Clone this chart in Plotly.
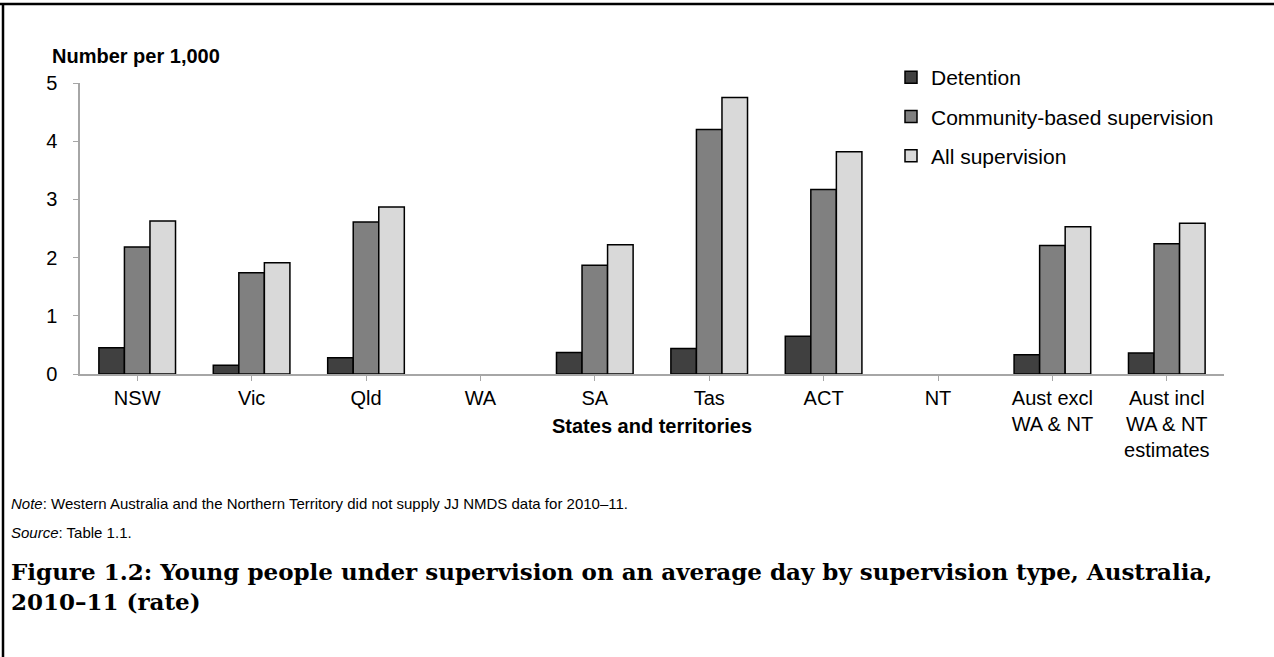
import plotly.graph_objects as go

# categories and rates (number per 1,000)
states = ["NSW", "Vic", "Qld", "WA", "SA", "Tas", "ACT", "NT",
          "Aust excl<br>WA & NT", "Aust incl<br>WA & NT<br>estimates"]
detention = [0.45, 0.15, 0.28, None, 0.37, 0.44, 0.65, None, 0.33, 0.36]
community = [2.18, 1.74, 2.61, None, 1.87, 4.20, 3.17, None, 2.21, 2.24]
all_supervision = [2.63, 1.91, 2.87, None, 2.22, 4.75, 3.82, None, 2.53, 2.59]

series_names = ["Detention", "Community-based supervision", "All supervision"]
series_colors = ["#404040", "#808080", "#d9d9d9"]

W, H = 1274, 657
L, R, T, B = 80, 50, 83, 283


def px_x(p):
    return (p - L) / (W - L - R)


def px_y(p):
    return (H - B - p) / (H - B - T)


fig = go.Figure()
for name, vals, col in zip(series_names, [detention, community, all_supervision], series_colors):
    fig.add_trace(go.Bar(x=states, y=vals, name=name, legendgroup=name,
                         marker=dict(color=col, line=dict(color="black", width=1.5))))

font = "Liberation Sans, Arial, sans-serif"

fig.update_layout(
    width=W, height=H,
    margin=dict(l=L, r=R, t=T, b=B),
    paper_bgcolor="white", plot_bgcolor="white",
    barmode="group", bargap=0.33, bargroupgap=0,
    font=dict(family=font, size=20, color="black"),
    showlegend=True,
    legend=dict(x=px_x(891), y=px_y(57), xanchor="left", yanchor="top",
                font=dict(size=21), tracegroupgap=9, itemwidth=30,
                bgcolor="rgba(0,0,0,0)"),
)
fig.update_xaxes(showline=True, linecolor="#a6a6a6", linewidth=1.5,
                 ticks="outside", ticklen=5, tickcolor="#a6a6a6",
                 range=[-0.5, 9.5], showgrid=False)
fig.update_yaxes(showline=True, linecolor="#a6a6a6", linewidth=1.5,
                 ticks="outside", ticklen=5, tickcolor="#a6a6a6", ticklabelstandoff=12,
                 range=[0, 5], dtick=1, showgrid=False, zeroline=False)

fig.add_annotation(text="<b>Number per 1,000</b>", xref="paper", yref="paper",
                   x=px_x(50), y=px_y(56), xanchor="left", yanchor="middle",
                   showarrow=False, font=dict(size=20))
fig.add_annotation(text="<b>States and territories</b>", xref="paper", yref="paper",
                   x=px_x(652), y=px_y(426), xanchor="center", yanchor="middle",
                   showarrow=False, font=dict(size=20))
fig.add_annotation(text="<i>Note</i>: Western Australia and the Northern Territory did not supply JJ NMDS data for 2010–11.",
                   xref="paper", yref="paper", x=px_x(9), y=px_y(503),
                   xanchor="left", yanchor="middle", showarrow=False, font=dict(size=15))
fig.add_annotation(text="<i>Source</i>: Table 1.1.",
                   xref="paper", yref="paper", x=px_x(9), y=px_y(532),
                   xanchor="left", yanchor="middle", showarrow=False, font=dict(size=15))
fig.add_annotation(text="<b>Figure 1.2: Young people under supervision on an average day by supervision type, Australia,<br>2010–11 (rate)</b>",
                   xref="paper", yref="paper", x=px_x(9), y=px_y(586),
                   xanchor="left", yanchor="middle", align="left", showarrow=False,
                   font=dict(size=23, family="DejaVu Serif, Liberation Serif, serif"))

# outer frame (top and left edges)
fig.add_shape(type="line", xref="paper", yref="paper",
              x0=px_x(0), x1=px_x(W), y0=px_y(4), y1=px_y(4), line=dict(color="black", width=2.5))
fig.add_shape(type="line", xref="paper", yref="paper",
              x0=px_x(3), x1=px_x(3), y0=px_y(3), y1=px_y(H), line=dict(color="black", width=2.5))

fig.write_html("out.html", config={"displayModeBar": False},
               post_script="document.body.style.margin='0';")
